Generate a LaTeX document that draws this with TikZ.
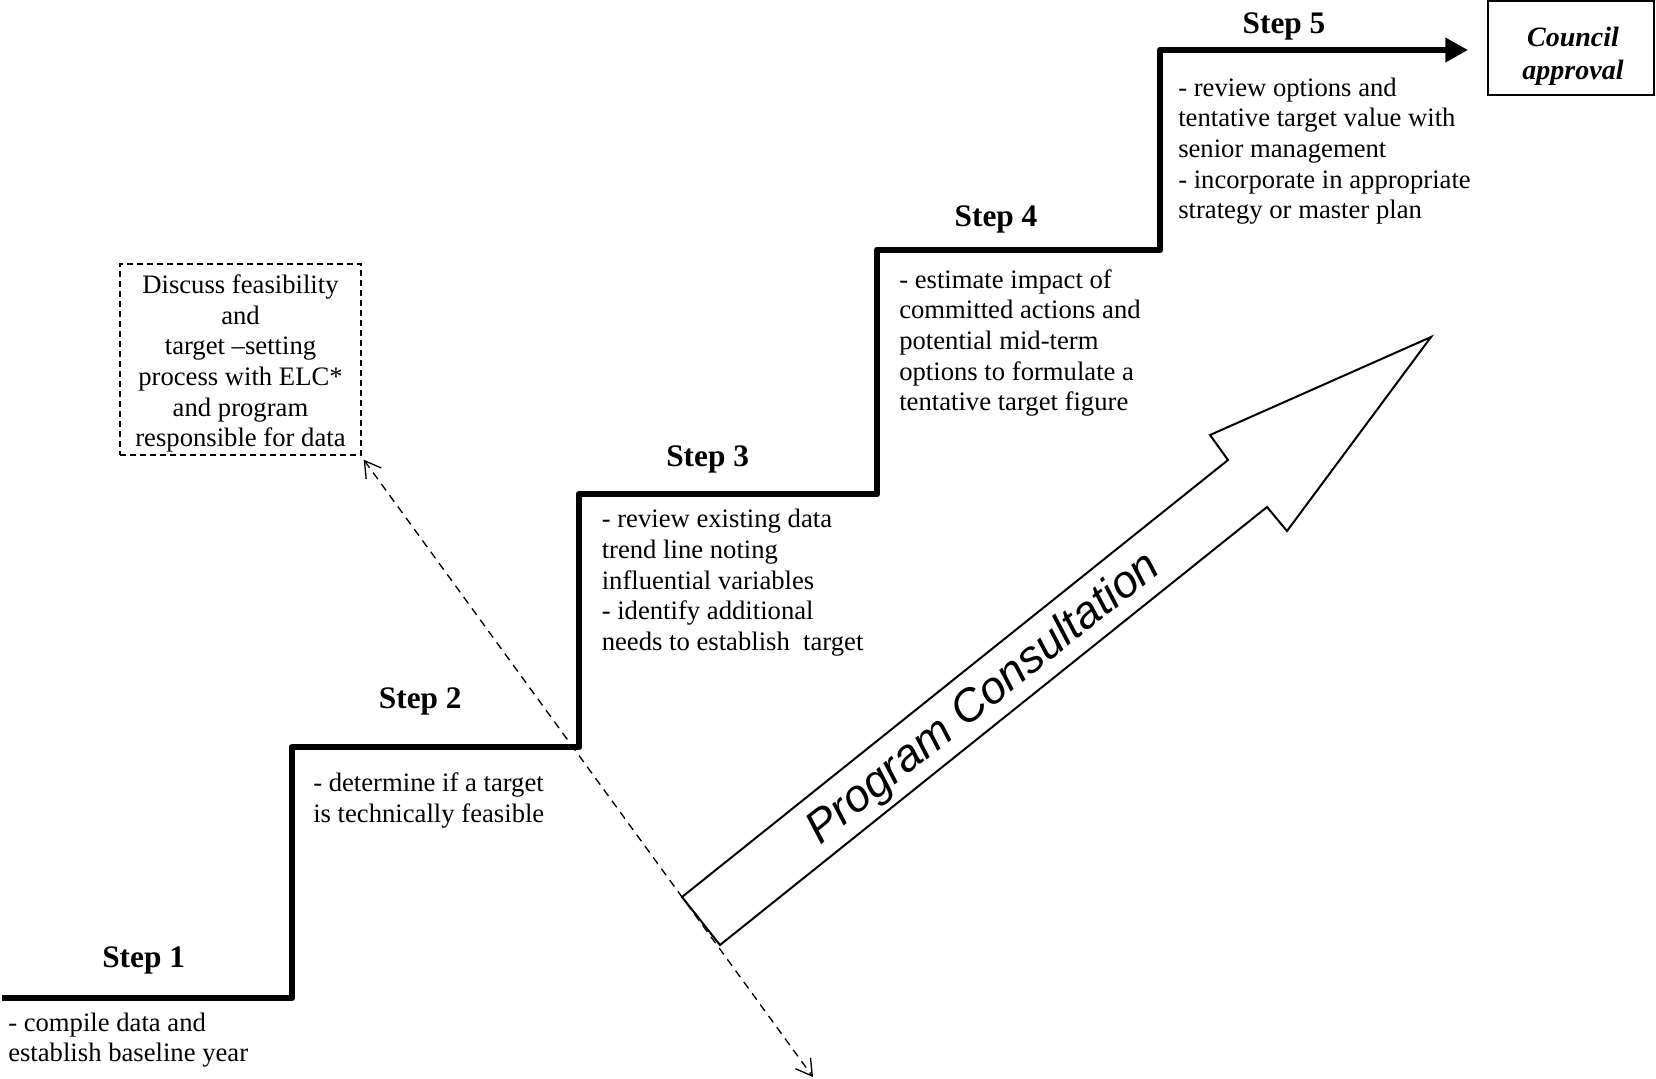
\documentclass[tikz,border=0pt]{standalone}
\usepackage{fontspec}
\setmainfont{Liberation Serif}
\newfontfamily\arialfont{Liberation Sans}
\usetikzlibrary{arrows.meta}
\begin{document}
\begin{tikzpicture}[x=0.75pt,y=-0.75pt,
  stair/.style={line width=5.2pt, line join=round},
  steplabel/.style={anchor=base, inner sep=0, font=\fontsize{23.5}{28}\selectfont\bfseries},
  desc/.style={anchor=north west, inner sep=0, align=left, font=\fontsize{20}{23}\selectfont},
  feasbox/.style={draw, line width=1pt, dash pattern=on 4.5pt off 3pt, minimum width=180.75pt, minimum height=143.25pt, inner sep=0, align=center, font=\fontsize{20}{23}\selectfont},
  councilbox/.style={draw, line width=1.5pt, minimum width=124.5pt, minimum height=70.5pt, inner sep=0},
  counciltext/.style={anchor=north, inner sep=0, align=center, font=\fontsize{21}{24.4}\selectfont\bfseries\itshape},
  bigarrow/.style={line width=1.5pt, line join=miter},
  consult/.style={font=\fontsize{34}{40}\selectfont\arialfont\itshape, inner sep=0, rotate=38.67},
  dashline/.style={line width=1pt, dash pattern=on 6pt off 4.5pt,
    {Straight Barb[length=11.8pt,width=14pt]}-{Straight Barb[length=11.8pt,width=14pt]}}
]
\useasboundingbox (0,0) rectangle (1656,1078);

% boxes
\node[feasbox] (feas) at (240.5,359.5) {\rule{0pt}{20.2pt}Discuss feasibility\\and\\target --setting\\process with ELC*\\and program\\responsible for data};
\node[councilbox] (council) at (1571,48) {};
\node[counciltext] (ctext) at (1573,23.7) {\strut Council\\approval};

% big hollow arrow
\draw[bigarrow] (682,897) -- (1228,460) -- (1210,435) -- (1431,337) -- (1287,531) -- (1267,507) -- (720,945) -- cycle;
\node[consult] (pc) at (984,699) {Program Consultation};

% dashed double arrow
\coordinate (dbot) at (813,1077);
\draw[dashline] ([shift={(2,4)}]feas.south east) -- (dbot);

% staircase
\coordinate (s5) at (1160,50);
\draw[stair, -{Triangle[length=17pt,width=17.5pt]}, shorten >=14.25pt]
  (2,998) -- (292,998) -- (292,747) -- (579,747) -- (579,494) -- (877,494)
  -- (877,250) -- (s5 |- 0,250) -- (s5) -- (council.west |- s5);

% step labels
\node[steplabel] (st1) at (143.6,967) {Step 1};
\node[steplabel] (st2) at (420.3,708) {Step 2};
\node[steplabel] (st3) at (707.6,466) {Step 3};
\node[steplabel] (st4) at (996,226.5) {Step 4};
\node[steplabel] (st5) at (1284,33) {Step 5};

% descriptions
\node[desc] (d1) at (8,1009.5) {\strut - compile data and\\establish baseline year};
\node[desc] (d2) at (313,770.1) {\strut - determine if a target\\is technically feasible};
\node[desc] (d3) at (601.5,506.1) {\strut - review existing data\\trend line noting\\influential variables\\- identify additional\\needs to establish\ \ target};
\node[desc] (d4) at (899,266.5) {\strut - estimate impact of\\committed actions and\\potential mid-term\\options to formulate a\\tentative target figure};
\node[desc] (d5) at (1178,74.5) {\strut - review options and\\tentative target value with\\senior management\\- incorporate in appropriate\\strategy or master plan};
\end{tikzpicture}
\end{document}
